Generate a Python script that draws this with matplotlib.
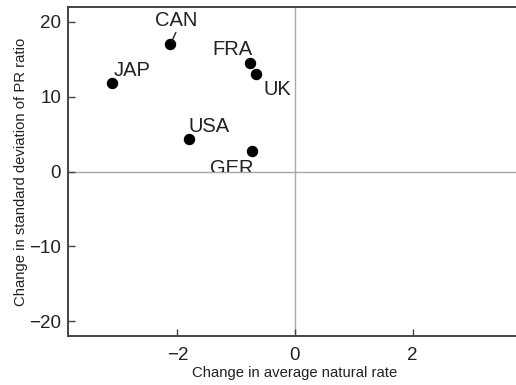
import matplotlib.pyplot as plt
from matplotlib.patches import Rectangle

plt.rcParams["font.family"] = ["Liberation Sans", "DejaVu Sans"]

pays = ["JAP", "CAN", "FRA", "UK", "USA", "GER"]
chg_taux = [-3.12, -2.12, -0.76, -0.66, -1.80, -0.73]
chg_ecart = [11.9, 17.0, 14.5, 13.0, 4.3, 2.7]

# décalage des étiquettes (points) et alignement horizontal
etiquettes = {
    "JAP": ((1.5, 5), "left"),
    "CAN": ((4, 13.5), "center"),
    "FRA": ((1.5, 6), "right"),
    "UK": ((5, -15), "left"),
    "USA": ((-0.5, 5), "left"),
    "GER": ((1, -16), "right"),
}

fig = plt.figure(figsize=(5.16, 3.85), dpi=100)
ax = fig.add_axes([68 / 516, 49 / 385, 454 / 516, 329 / 385])

gris = "#a8a8a8"
ax.axhline(0, color=gris, lw=1.0, zorder=1)
ax.axvline(0, color=gris, lw=1.0, zorder=1)

ax.scatter(chg_taux, chg_ecart, s=52, color="black", zorder=3)

zone = Rectangle((-4, 0), 8, 30, transform=ax.transData)
for nom, x, y in zip(pays, chg_taux, chg_ecart):
    (dx, dy), ha = etiquettes[nom]
    if nom == "CAN":
        ax.annotate(nom, (x, y), xytext=(dx, dy), textcoords="offset points",
                    ha=ha, va="baseline", fontsize=14.5, color="#222222",
                    arrowprops=dict(arrowstyle="-", color="#222222", lw=1.0,
                                    shrinkA=0, shrinkB=2,
                                    relpos=(0.5, -0.15)))
    else:
        t = ax.annotate(nom, (x, y), xytext=(dx, dy), textcoords="offset points",
                        ha=ha, va="baseline", fontsize=14.5, color="#222222")
        if nom == "GER":
            t.set_clip_path(zone)

ax.set_xlim(-3.86, 3.86)
ax.set_ylim(-22, 22)
ax.set_xticks([-2, 0, 2])
ax.set_yticks([-20, -10, 0, 10, 20])
ax.set_xticklabels(["\u22122", "0", "2"])
ax.set_yticklabels(["\u221220", "\u221210", "0", "10", "20"])
ax.tick_params(direction="in", length=5, width=1, color="#444444",
               labelsize=13.5, labelcolor="#222222", pad=5)
ax.tick_params(axis="x", pad=8)

for cote in ["left", "bottom", "top"]:
    ax.spines[cote].set_color("#444444")
    ax.spines[cote].set_linewidth(1.4)
ax.spines["right"].set_visible(False)

ax.set_xlabel("Change in average natural rate", fontsize=10.7, color="#222222", labelpad=1)
ax.set_ylabel("Change in standard deviation of PR ratio", fontsize=10.7,
              color="#222222", labelpad=1)

fig.savefig("out.png", dpi=100)
